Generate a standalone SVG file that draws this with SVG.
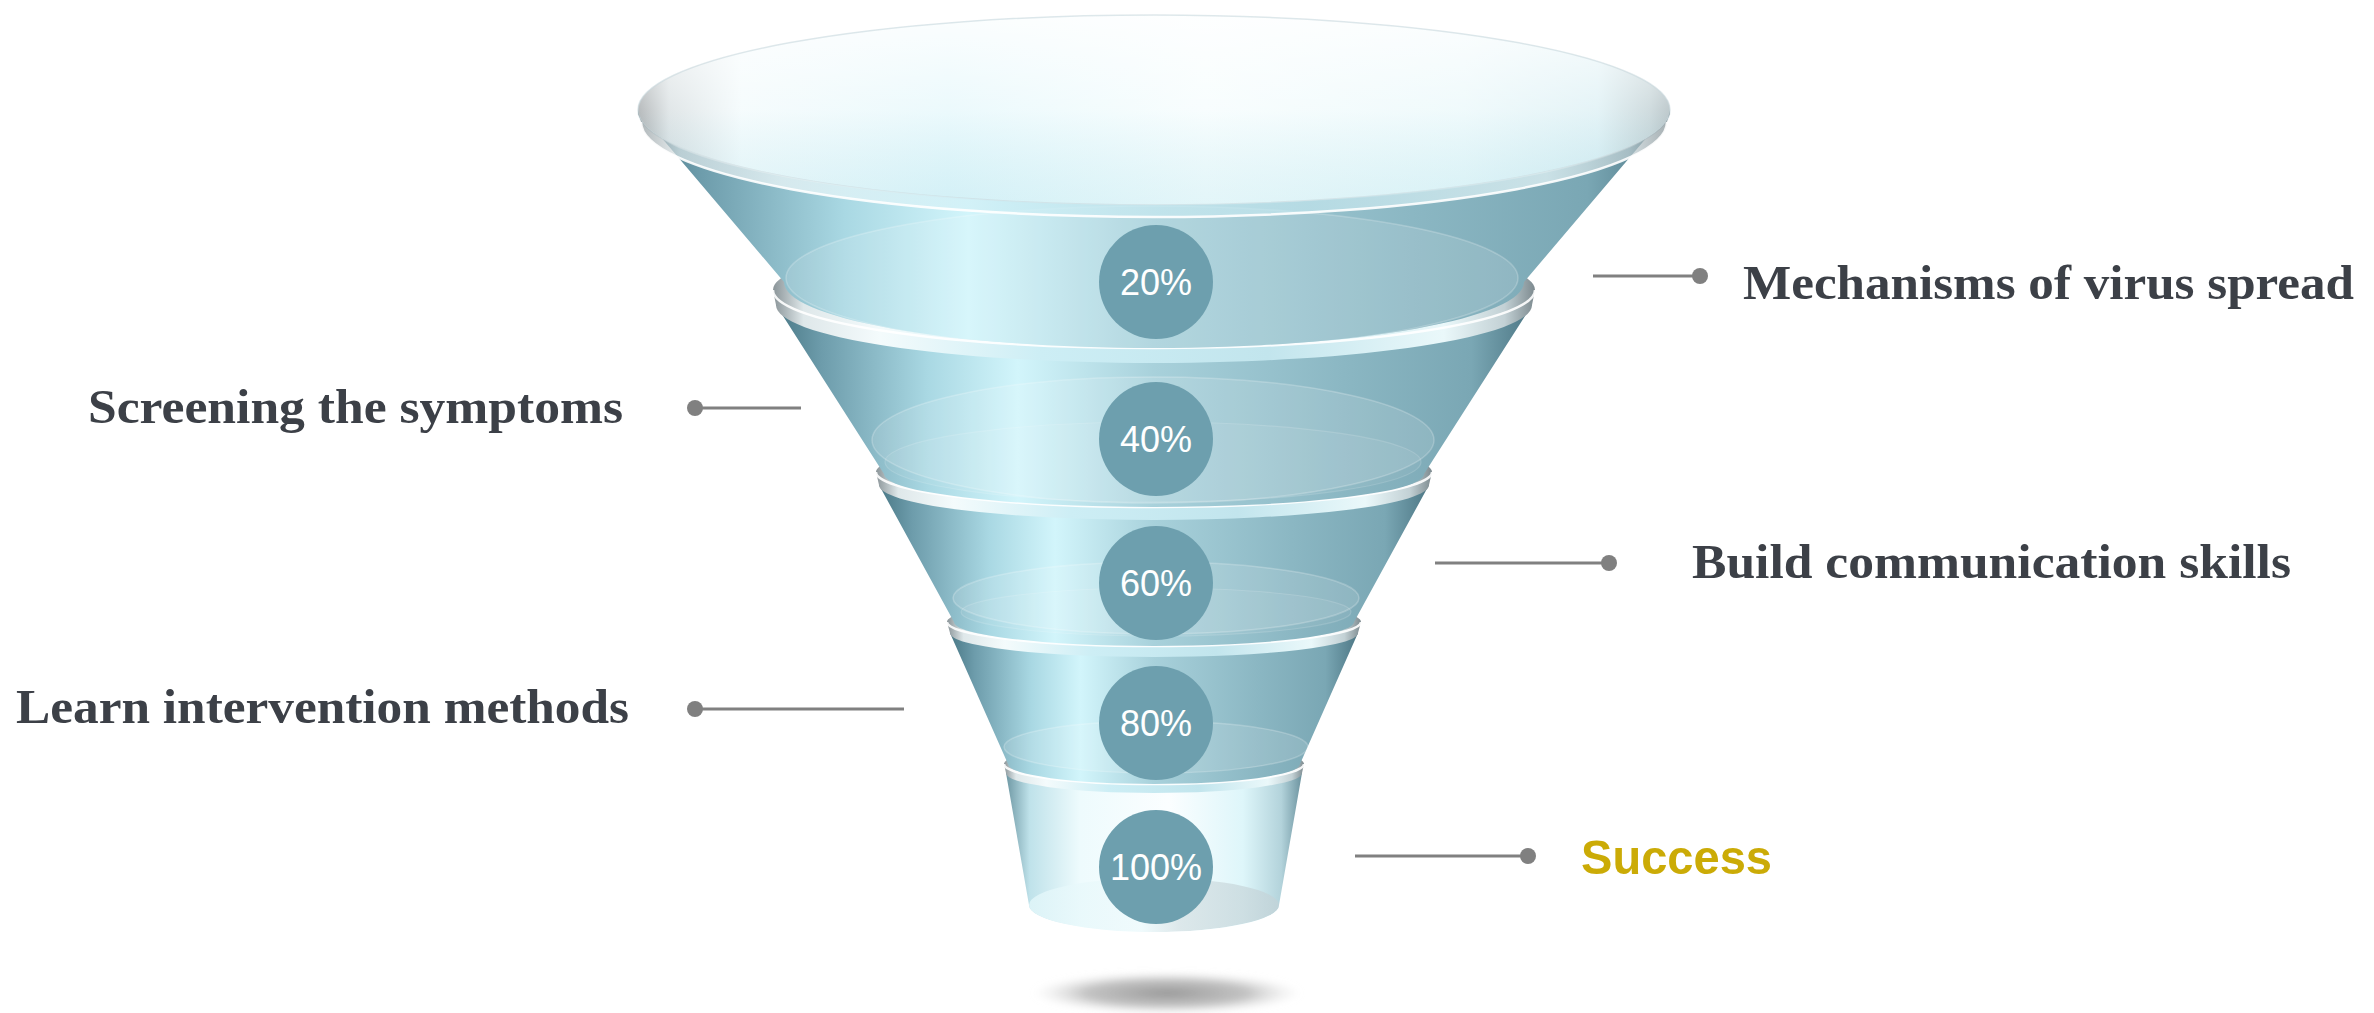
<svg xmlns="http://www.w3.org/2000/svg" xmlns:xlink="http://www.w3.org/1999/xlink" width="2374" height="1013" viewBox="0 0 2374 1013">
<style>
.lbl{font-family:"Liberation Serif","DejaVu Serif",serif;font-weight:700;font-size:48px;fill:#3c4047}
.succ{font-family:"Liberation Sans",Arial,sans-serif;font-weight:700;font-size:49px;fill:#cbab06}
.pct{font-family:"Liberation Sans",Arial,sans-serif;font-size:36px;fill:#ffffff;text-anchor:middle}
.badge{fill:#6d9fae}
.ln{stroke:#808080;stroke-width:3;fill:none}
.dot{fill:#808080}
.inner{fill:#ffffff;fill-opacity:0.12;stroke:#ffffff;stroke-opacity:0.22;stroke-width:1.5}
.inner2{fill:#ffffff;fill-opacity:0.06;stroke:#ffffff;stroke-opacity:0.15;stroke-width:1.2}
.hl{fill:none;stroke:#ffffff;stroke-width:2.5;stroke-opacity:0.9}
.body{fill:url(#gBody)}
.lip{fill:url(#gLip)}
</style>
<defs>
<linearGradient id="gBody" x1="0" y1="0" x2="1" y2="0">
<stop offset="0" stop-color="#4a7886"/>
<stop offset="0.06" stop-color="#6d9cab"/>
<stop offset="0.2" stop-color="#a9d8e3"/>
<stop offset="0.32" stop-color="#d2f5fb"/>
<stop offset="0.5" stop-color="#a8d1db"/>
<stop offset="0.75" stop-color="#8bb7c3"/>
<stop offset="0.92" stop-color="#7aa7b4"/>
<stop offset="1" stop-color="#4d7785"/>
</linearGradient>
<linearGradient id="gLip" x1="0" y1="0" x2="1" y2="0">
<stop offset="0" stop-color="#8a9498"/>
<stop offset="0.04" stop-color="#dfe8ea"/>
<stop offset="0.14" stop-color="#f4fbfc"/>
<stop offset="0.35" stop-color="#cdeef5"/>
<stop offset="0.65" stop-color="#c2e5ed"/>
<stop offset="0.88" stop-color="#eaf8fa"/>
<stop offset="0.96" stop-color="#c3d1d5"/>
<stop offset="1" stop-color="#7d8a8f"/>
</linearGradient>
<linearGradient id="gBase" x1="0" y1="0" x2="1" y2="0">
<stop offset="0" stop-color="#6e98a4"/>
<stop offset="0.08" stop-color="#bfe2ea"/>
<stop offset="0.25" stop-color="#eefbfd"/>
<stop offset="0.55" stop-color="#fbfeff"/>
<stop offset="0.8" stop-color="#def6fa"/>
<stop offset="0.93" stop-color="#b3d3db"/>
<stop offset="1" stop-color="#6c939f"/>
</linearGradient>
<linearGradient id="gFloor" x1="0" y1="0" x2="1" y2="0">
<stop offset="0" stop-color="#e3f7fa"/>
<stop offset="0.45" stop-color="#eefafc"/>
<stop offset="0.6" stop-color="#d6e3e6"/>
<stop offset="1" stop-color="#c2d3d8"/>
</linearGradient>
<linearGradient id="gRim" x1="0" y1="0" x2="1" y2="0">
<stop offset="0" stop-color="#7d8487"/>
<stop offset="0.03" stop-color="#c9d3d6"/>
<stop offset="0.1" stop-color="#eef9fb"/>
<stop offset="0.3" stop-color="#dcf5fa"/>
<stop offset="0.55" stop-color="#f2fcfd"/>
<stop offset="0.8" stop-color="#e3f6f9"/>
<stop offset="0.93" stop-color="#cfeaf0"/>
<stop offset="0.98" stop-color="#aac0c5"/>
<stop offset="1" stop-color="#8a9ea4"/>
</linearGradient>
<linearGradient id="gRimV" x1="0" y1="0" x2="0" y2="1">
<stop offset="0" stop-color="#ffffff" stop-opacity="0.9"/>
<stop offset="0.5" stop-color="#ffffff" stop-opacity="0.45"/>
<stop offset="1" stop-color="#bfe6ee" stop-opacity="0.3"/>
</linearGradient>
<radialGradient id="gShadow" cx="0.5" cy="0.5" r="0.5">
<stop offset="0" stop-color="#999999"/>
<stop offset="0.6" stop-color="#b8b8b8" stop-opacity="0.85"/>
<stop offset="1" stop-color="#e0e0e0" stop-opacity="0"/>
</radialGradient>
<filter id="blur" x="-20%" y="-60%" width="140%" height="220%"><feGaussianBlur stdDeviation="3"/></filter>
<path id="b1" d="M638,110 A516,95 0 0 0 1670,110 L1524,282 A370,66 0 0 1 784,282 Z"/>
<path id="b2" d="M776,305 A378,58 0 0 1 1532,305 L1424,474 A270,33 0 0 1 884,474 Z"/>
<path id="b3" d="M879,485 A275,35 0 0 1 1429,485 L1354,622 A200,24 0 0 1 954,622 Z"/>
<path id="b4" d="M950,633 A204,24 0 0 1 1358,633 L1300,764 A146,20 0 0 1 1008,764 Z"/>
<path id="b5" d="M1006,773 A148,20 0 0 1 1302,773 L1279,905 A125,27 0 0 1 1029,905 Z"/>
<clipPath id="c1"><use xlink:href="#b1"/></clipPath>
<clipPath id="c2"><use xlink:href="#b2"/></clipPath>
<clipPath id="c3"><use xlink:href="#b3"/></clipPath>
<clipPath id="c4"><use xlink:href="#b4"/></clipPath>
<clipPath id="c5"><use xlink:href="#b5"/></clipPath>
</defs>
<rect width="2374" height="1013" fill="#ffffff"/>

<g id="shadow">
<ellipse cx="1167" cy="993" rx="135" ry="21" fill="url(#gShadow)" filter="url(#blur)"/>
</g>

<g id="seg5">
<use xlink:href="#b5" fill="url(#gBase)"/>
<ellipse cx="1154" cy="905" rx="125" ry="27" fill="url(#gFloor)" fill-opacity="0.8" clip-path="url(#c5)"/>
<path class="lip" d="M1004,764 A150,20 0 0 1 1304,764 L1302,773 A148,20 0 0 1 1006,773 Z"/>
<path class="hl" d="M1004,764 A150,20 0 0 0 1304,764"/>
</g>

<g id="seg4">
<use xlink:href="#b4" class="body"/>
<g clip-path="url(#c4)">
<ellipse class="inner" cx="1156" cy="747" rx="152" ry="26"/>
</g>
<path class="lip" d="M947,622 A207,24 0 0 1 1361,622 L1358,633 A204,24 0 0 1 950,633 Z"/>
<path class="hl" d="M947,622 A207,24 0 0 0 1361,622"/>
</g>

<g id="seg3">
<use xlink:href="#b3" class="body"/>
<g clip-path="url(#c3)">
<ellipse class="inner" cx="1156" cy="598" rx="203" ry="36"/>
<ellipse class="inner2" cx="1156" cy="612" rx="195" ry="24"/>
</g>
<path class="lip" d="M876,472 A278,35 0 0 1 1432,472 L1429,485 A275,35 0 0 1 879,485 Z"/>
<path class="hl" d="M876,472 A278,35 0 0 0 1432,472"/>
</g>

<g id="seg2">
<use xlink:href="#b2" class="body"/>
<g clip-path="url(#c2)">
<ellipse class="inner" cx="1153" cy="440" rx="281" ry="63"/>
<ellipse class="inner2" cx="1153" cy="462" rx="268" ry="40"/>
</g>
<path class="lip" d="M773,290 A381,58 0 0 1 1535,290 L1532,305 A378,58 0 0 1 776,305 Z"/>
<path class="hl" d="M773,290 A381,58 0 0 0 1535,290"/>
</g>

<g id="seg1">
<use xlink:href="#b1" class="body"/>
<g clip-path="url(#c1)">
<ellipse class="inner" cx="1152" cy="278" rx="366" ry="72"/>
</g>
<ellipse cx="1154" cy="110" rx="516" ry="95" fill="url(#gRim)"/>
<ellipse cx="1154" cy="110" rx="516" ry="95" fill="url(#gRimV)" stroke="#c9d9dd" stroke-opacity="0.6" stroke-width="1.5"/>
<path class="lip" d="M638,110 A516,95 0 0 0 1670,110 L1667,122 A513,95 0 0 1 641,122 Z" fill-opacity="0.7"/>
<path class="hl" d="M641,122 A513,95 0 0 0 1667,122"/>
</g>

<g id="badges">
<g id="b20"><circle class="badge" cx="1156" cy="282" r="57"/><text class="pct" x="1156" y="295">20%</text></g>
<g id="b40"><circle class="badge" cx="1156" cy="439" r="57"/><text class="pct" x="1156" y="452">40%</text></g>
<g id="b60"><circle class="badge" cx="1156" cy="583" r="57"/><text class="pct" x="1156" y="596">60%</text></g>
<g id="b80"><circle class="badge" cx="1156" cy="723" r="57"/><text class="pct" x="1156" y="736">80%</text></g>
<g id="b100"><circle class="badge" cx="1156" cy="867" r="57"/><text class="pct" x="1156" y="880">100%</text></g>
</g>

<g id="connectors">
<line class="ln" x1="1593" y1="276" x2="1700" y2="276"/><circle class="dot" cx="1700" cy="276" r="8"/>
<line class="ln" x1="695" y1="408" x2="801" y2="408"/><circle class="dot" cx="695" cy="408" r="8"/>
<line class="ln" x1="1435" y1="563" x2="1609" y2="563"/><circle class="dot" cx="1609" cy="563" r="8"/>
<line class="ln" x1="695" y1="709" x2="904" y2="709"/><circle class="dot" cx="695" cy="709" r="8"/>
<line class="ln" x1="1355" y1="856" x2="1528" y2="856"/><circle class="dot" cx="1528" cy="856" r="8"/>
</g>

<g id="label-mechanisms"><text class="lbl" x="1743" y="299" textLength="611" lengthAdjust="spacingAndGlyphs">Mechanisms of virus spread</text></g>
<g id="label-screening"><text class="lbl" x="88" y="423" textLength="535" lengthAdjust="spacingAndGlyphs">Screening the symptoms</text></g>
<g id="label-build"><text class="lbl" x="1692" y="578" textLength="599" lengthAdjust="spacingAndGlyphs">Build communication skills</text></g>
<g id="label-learn"><text class="lbl" x="16" y="723" textLength="613" lengthAdjust="spacingAndGlyphs">Learn intervention methods</text></g>
<g id="label-success"><text class="succ" x="1581" y="874" textLength="191" lengthAdjust="spacingAndGlyphs">Success</text></g>
</svg>
